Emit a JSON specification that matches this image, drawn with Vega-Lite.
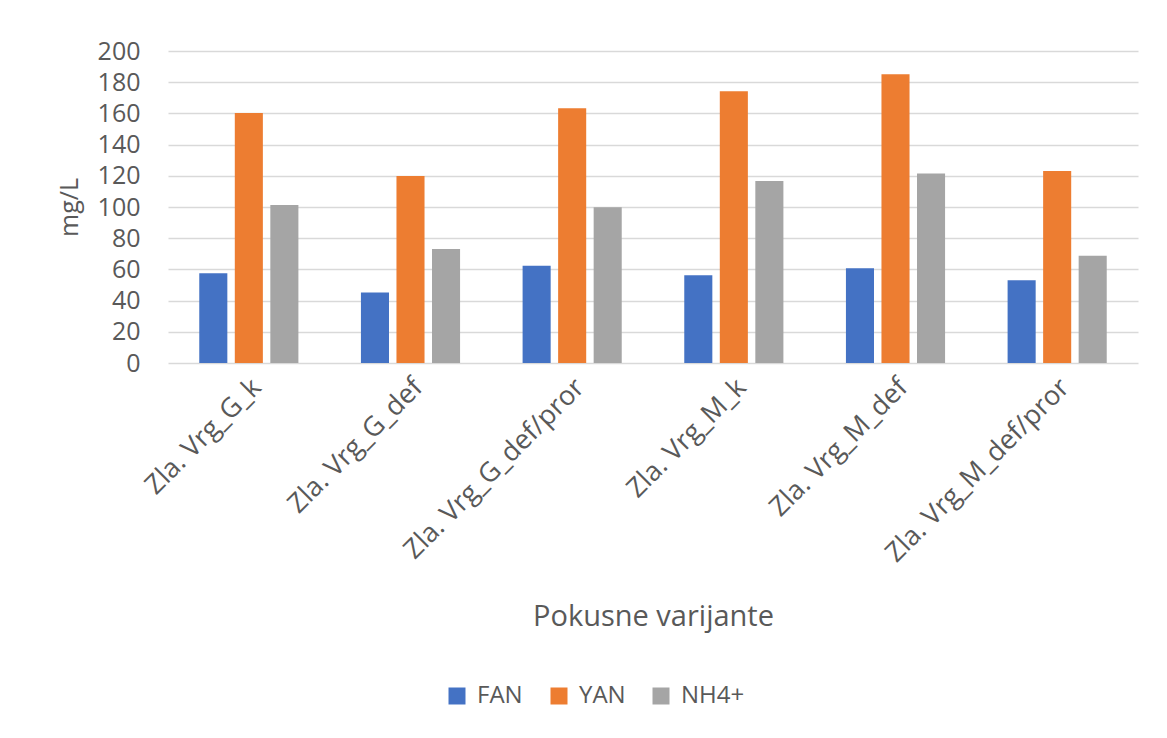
{
  "$schema": "https://vega.github.io/schema/vega-lite/v6.json",
  "width": 970,
  "height": 312,
  "autosize": {"type": "none"},
  "padding": {"left": 168, "top": 51, "right": 29, "bottom": 375},
  "background": "white",
  "data": {
    "values": [
      {"variant": "Zla. Vrg_G_k", "series": "FAN", "value": 57.5},
      {"variant": "Zla. Vrg_G_k", "series": "YAN", "value": 160.3},
      {"variant": "Zla. Vrg_G_k", "series": "NH4+", "value": 101.3},
      {"variant": "Zla. Vrg_G_def", "series": "FAN", "value": 45.2},
      {"variant": "Zla. Vrg_G_def", "series": "YAN", "value": 119.8},
      {"variant": "Zla. Vrg_G_def", "series": "NH4+", "value": 73.1},
      {"variant": "Zla. Vrg_G_def/pror", "series": "FAN", "value": 62.3},
      {"variant": "Zla. Vrg_G_def/pror", "series": "YAN", "value": 163.3},
      {"variant": "Zla. Vrg_G_def/pror", "series": "NH4+", "value": 99.8},
      {"variant": "Zla. Vrg_M_k", "series": "FAN", "value": 56.3},
      {"variant": "Zla. Vrg_M_k", "series": "YAN", "value": 174.2},
      {"variant": "Zla. Vrg_M_k", "series": "NH4+", "value": 116.6},
      {"variant": "Zla. Vrg_M_def", "series": "FAN", "value": 60.8},
      {"variant": "Zla. Vrg_M_def", "series": "YAN", "value": 185.1},
      {"variant": "Zla. Vrg_M_def", "series": "NH4+", "value": 121.5},
      {"variant": "Zla. Vrg_M_def/pror", "series": "FAN", "value": 53.1},
      {"variant": "Zla. Vrg_M_def/pror", "series": "YAN", "value": 123.0},
      {"variant": "Zla. Vrg_M_def/pror", "series": "NH4+", "value": 68.7}
    ]
  },
  "config": {
    "font": "Open Sans",
    "view": {"stroke": null},
    "axis": {"labelColor": "#595959", "titleColor": "#595959", "titleFontWeight": "normal"},
    "legend": {"labelColor": "#595959"}
  },
  "mark": {"type": "bar"},
  "encoding": {
    "x": {
      "field": "variant",
      "type": "nominal",
      "sort": null,
      "title": "Pokusne varijante",
      "scale": {"paddingInner": 0, "paddingOuter": 0},
      "axis": {
        "domain": false,
        "ticks": false,
        "labelAngle": -45,
        "labelAlign": "right",
        "labelBaseline": "middle",
        "labelPadding": 20,
        "labelOffset": 8,
        "labelFontSize": 27,
        "labelLimit": 400,
        "titleFontSize": 29,
        "titleX": 485,
        "titleY": 262,
        "titleBaseline": "alphabetic",
        "titleAlign": "center"
      }
    },
    "xOffset": {
      "field": "series",
      "sort": ["FAN", "YAN", "NH4+"],
      "scale": {"paddingInner": 0.21, "paddingOuter": 0.88}
    },
    "y": {
      "field": "value",
      "type": "quantitative",
      "title": "mg/L",
      "scale": {"domain": [0, 200], "nice": false},
      "axis": {
        "values": [0, 20, 40, 60, 80, 100, 120, 140, 160, 180, 200],
        "domain": false,
        "ticks": false,
        "labelPadding": 28,
        "labelFontSize": 25,
        "gridColor": "#d9d9d9",
        "gridWidth": 1.5,
        "titleFontSize": 25,
        "titleAngle": -90,
        "titleX": -99,
        "titleY": 156,
        "titleBaseline": "middle",
        "titleAlign": "center"
      }
    },
    "color": {
      "field": "series",
      "type": "nominal",
      "sort": ["FAN", "YAN", "NH4+"],
      "scale": {"domain": ["FAN", "YAN", "NH4+"], "range": ["#4472c4", "#ed7d31", "#a5a5a5"]},
      "legend": {
        "title": null,
        "orient": "none",
        "legendX": 277,
        "legendY": 633,
        "direction": "horizontal",
        "symbolType": "square",
        "symbolSize": 289,
        "symbolStrokeWidth": 0,
        "labelFontSize": 24,
        "labelOffset": 8,
        "gridAlign": "all",
        "columnPadding": 6
      }
    }
  }
}
